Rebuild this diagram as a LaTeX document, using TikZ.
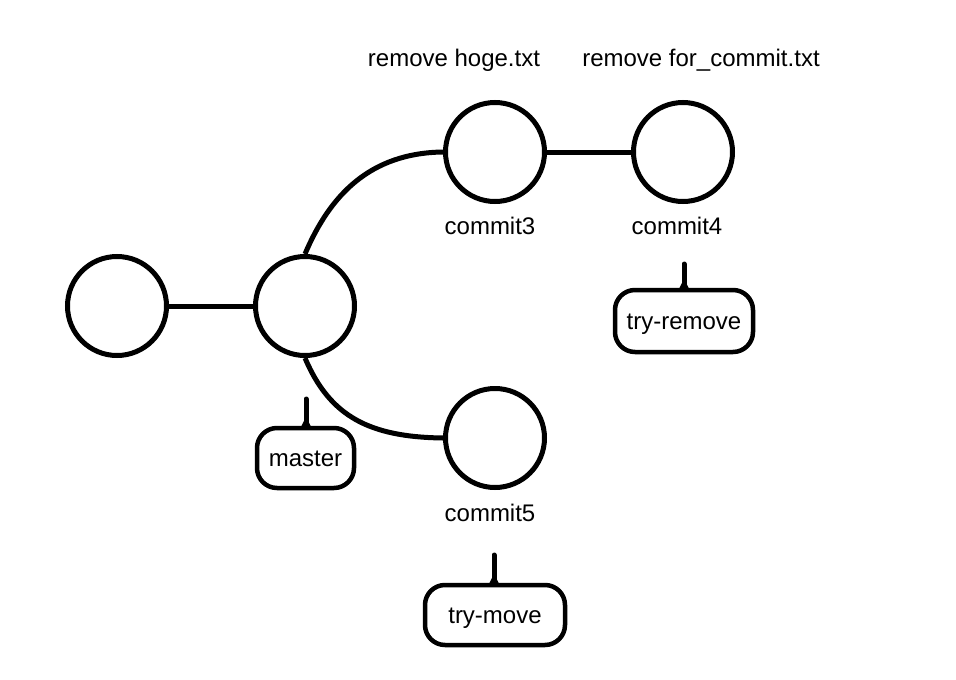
\documentclass[tikz,border=0pt]{standalone}
\usepackage{fontspec}
\setmainfont{Liberation Sans}
\begin{document}
\begin{tikzpicture}[x=1pt,y=-1pt,
  commit/.style={circle,draw,line width=5pt,minimum size=99pt,inner sep=0pt},
  lbl/.style={anchor=base,inner sep=0pt,font=\fontsize{24}{28}\selectfont},
  tagbox/.style={draw,line width=4.5pt,rounded corners=20pt,inner sep=0pt,
    text height=22pt,text depth=5pt,font=\fontsize{24}{28}\selectfont},
  edge/.style={line width=5pt},
  spike/.style={line width=5pt,line cap=round},
  flare/.style={fill}]
\useasboundingbox (0,0) rectangle (956,680);
\fill[white] (0,0) rectangle (956,680);
% commits
\node[commit] (c1) at (117,306) {};
\node[commit] (c2) at (305,306) {};
\node[commit] (c3) at (495,152) {};
\node[commit] (c4) at (683,152) {};
\node[commit] (c5) at (495,438) {};
% edges
\draw[edge] (c1) -- (c2);
\draw[edge] (c3) -- (c4);
\draw[edge] (c2.north) .. controls (330,195) and (370,153) .. (c3.west);
\draw[edge] (c2.south) .. controls (330,417) and (370,437) .. (c5.west);
% labels
\node[lbl] (l3) at (490,234) {commit3};
\node[lbl] (l4) at (677,234) {commit4};
\node[lbl] (l5) at (490,521) {commit5};
\node[lbl] (m3) at (454,66) {remove hoge.txt};
\node[lbl] (m4) at (701,66) {remove for\_commit.txt};
% tags
\node[tagbox,minimum width=97pt,minimum height=60pt] (tmaster) at (305.5,458) {master};
\node[tagbox,minimum width=138pt,minimum height=62pt] (tremove) at (684,321) {try-remove};
\node[tagbox,minimum width=140pt,minimum height=60pt] (tmove) at (495,615) {try-move};
\coordinate (pmaster) at (306,399);
\coordinate (premove) at (684,264);
\coordinate (pmove) at (494,555);
\foreach \t/\p in {tmaster/pmaster,tremove/premove,tmove/pmove}{
  \coordinate (b) at (\p |- \t.north);
  \draw[spike] (b) -- (\p);
  \path[flare] ([shift={(-6,3)}]b) -- ([shift={(0,-9)}]b) -- ([shift={(6,3)}]b) -- cycle;
}
\end{tikzpicture}
\end{document}
